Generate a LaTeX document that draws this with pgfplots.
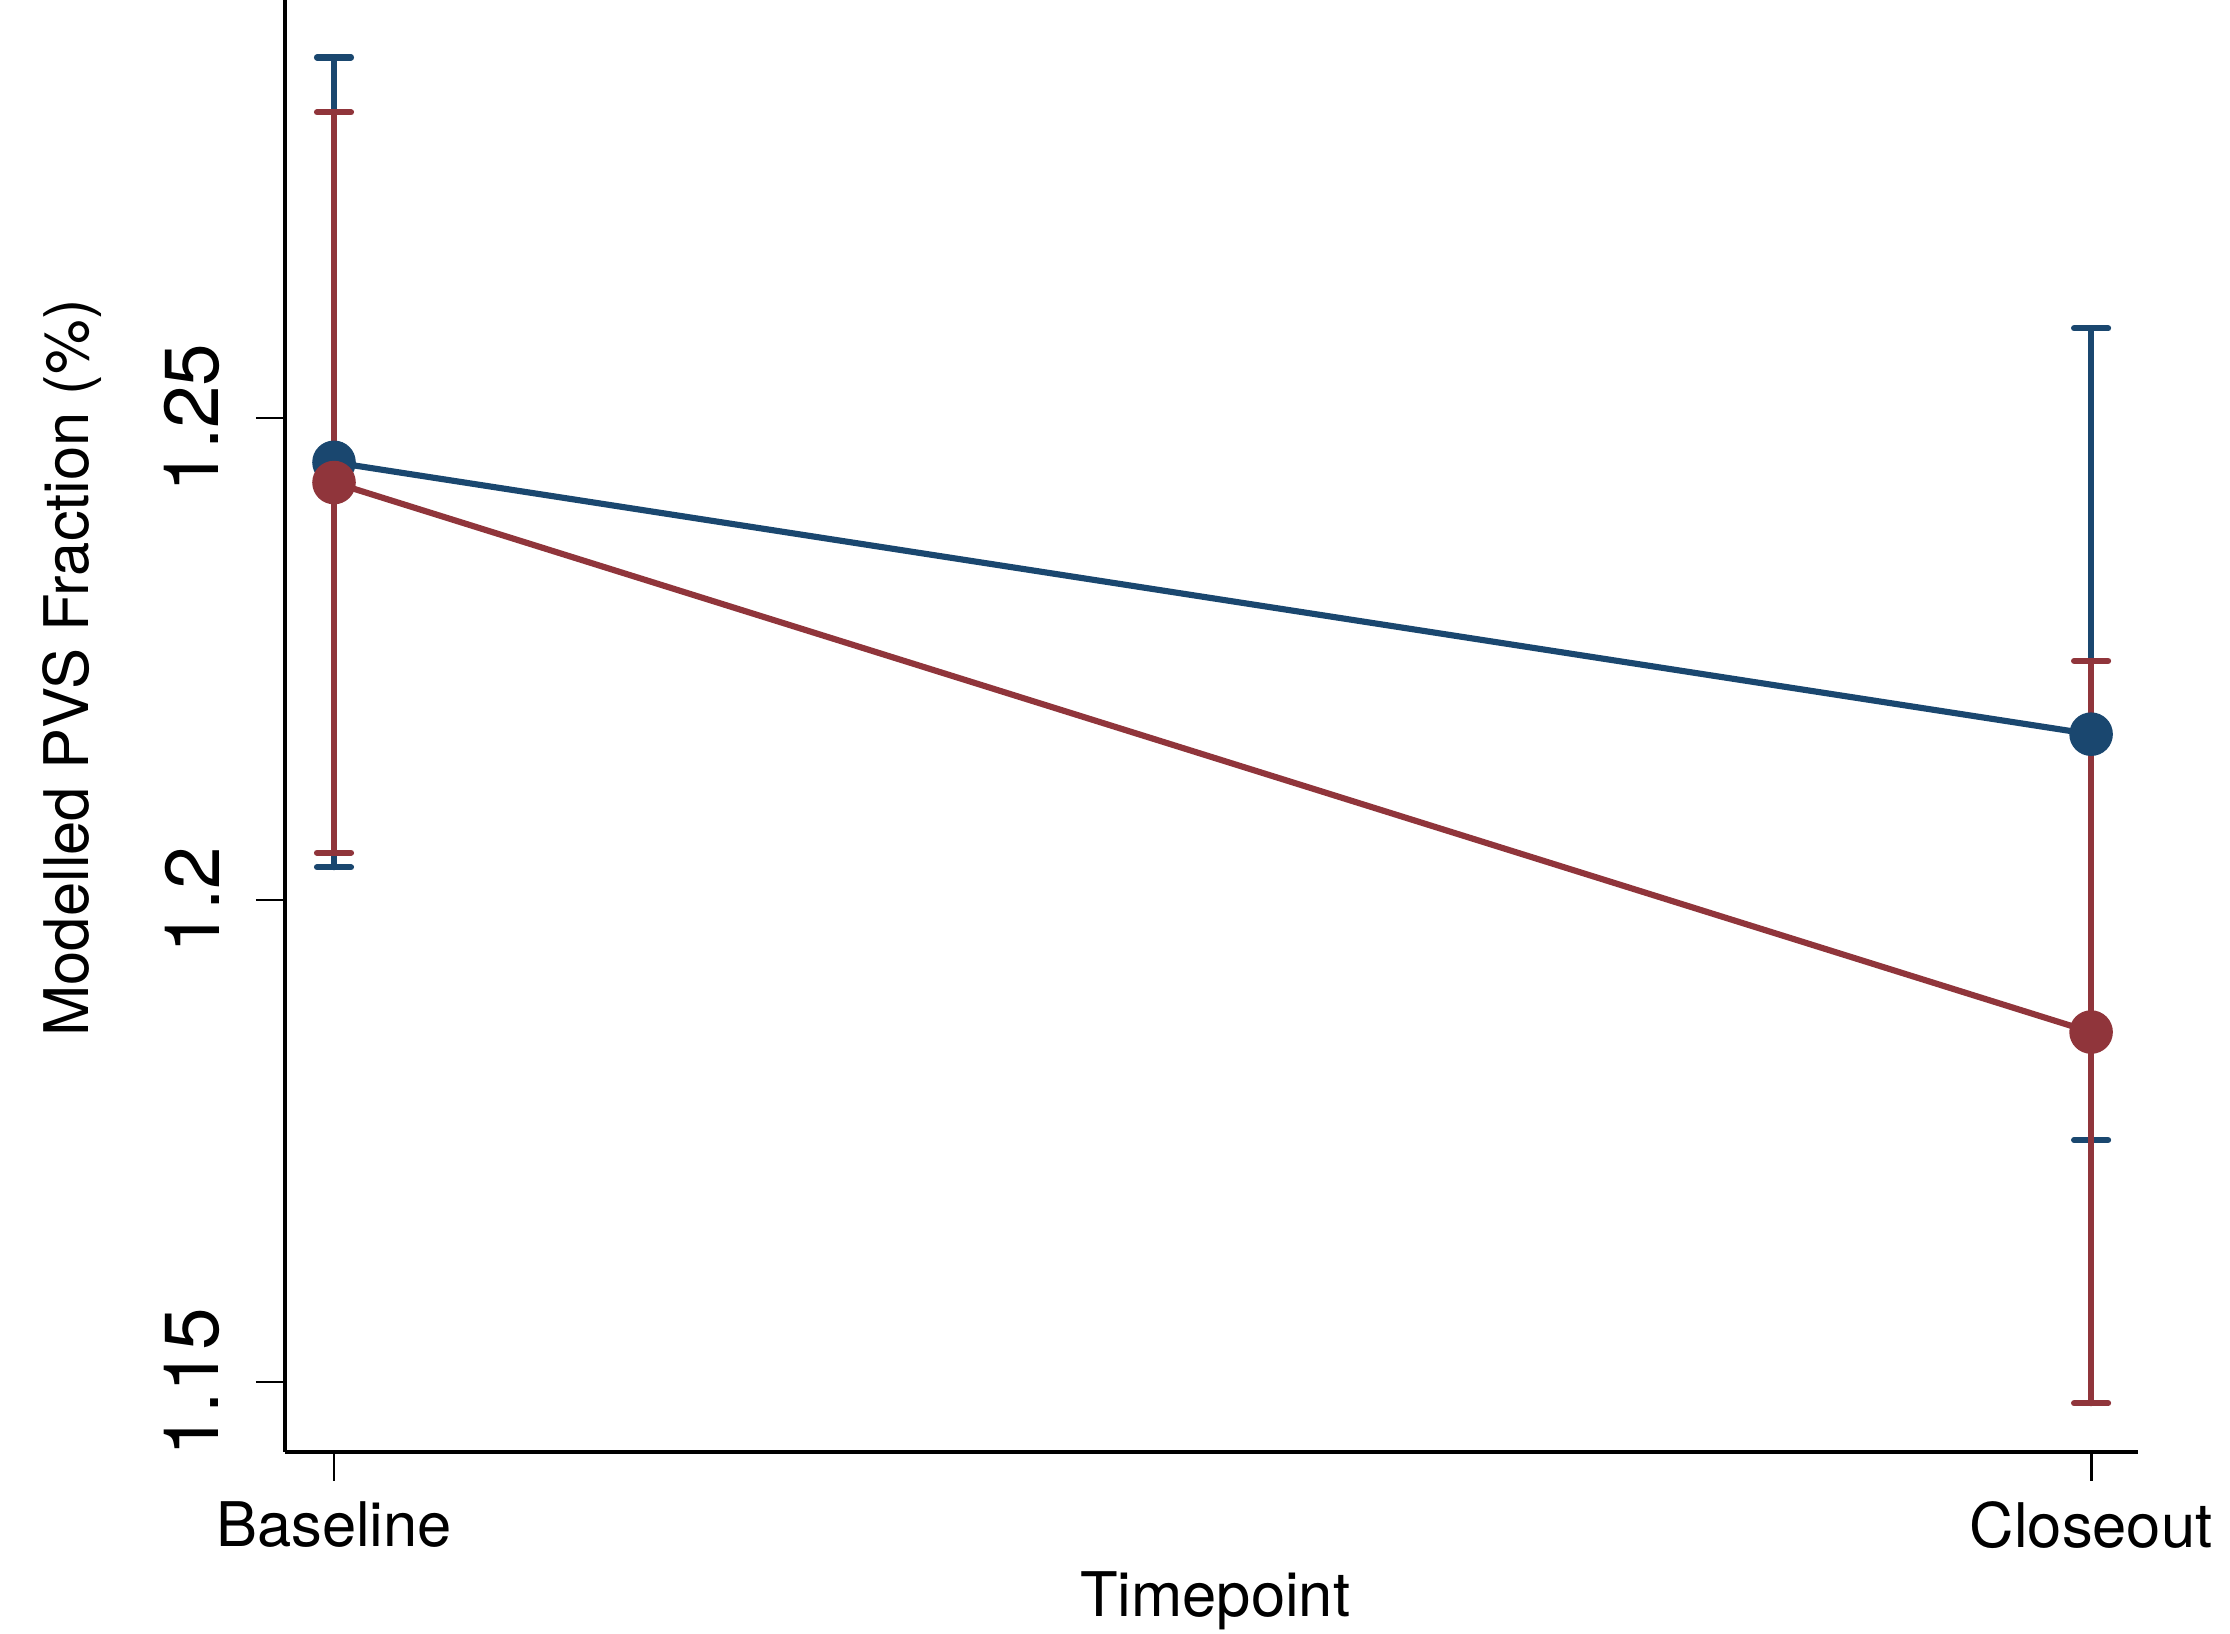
\documentclass[border=0pt]{standalone}
\usepackage{fontspec}
\setmainfont{TeX Gyre Heros}
\usepackage{pgfplots}
\pgfplotsset{compat=1.18}
\definecolor{snavy}{HTML}{1A476F}
\definecolor{smaroon}{HTML}{90353B}
\tikzset{
  ebar/.style={line width=1.75pt, line cap=round},
}
\newcommand{\tickfont}{\fontsize{21.8}{24}\selectfont}
\newcommand{\labfont}{\fontsize{17.5}{20}\selectfont}
\begin{document}
\begin{tikzpicture}
\begin{axis}[
  scale only axis,
  width=18.53cm, height=14.52cm,
  xmin=-0.0279, xmax=1.0267,
  ymin=1.14274, ymax=1.29336,
  axis lines*=left,
  axis line style={line width=0.95pt, black},
  tick align=outside,
  major tick length=0.29cm,
  tick style={line width=0.8pt, black},
  xtick={0,1}, xticklabels={Baseline,Closeout},
  ytick={1.15,1.2,1.25}, yticklabels={1.15,1.2,1.25},
  /pgf/number format/assume math mode=true,
  xticklabel style={font=\labfont, anchor=north, inner sep=0pt},
  yticklabel style={font=\tickfont, rotate=90, anchor=south, inner sep=0pt},
  xticklabel shift=0.2cm,
  yticklabel shift=0.36cm,
  xlabel={Timepoint},
  ylabel={Modelled PVS Fraction (\%)},
  every axis x label/.style={at={(axis description cs:0.502,-0.1136)}, anchor=base, font=\labfont},
  every axis y label/.style={at={(axis description cs:-0.1063,0.54)}, rotate=90, anchor=base, font=\labfont},
  clip=false,
]
% confidence intervals (mean +- half width)
\addplot[draw=none, mark=none,
  error bars/.cd, y dir=both, y explicit,
  error bar style={draw=snavy, ebar},
  error mark options={draw=snavy, ebar, rotate=90, mark size=0.17cm}]
  coordinates {(0,1.2454) +- (0,0.0420) (1,1.2172) +- (0,0.0421)};
\addplot[draw=none, mark=none,
  error bars/.cd, y dir=both, y explicit,
  error bar style={draw=smaroon, ebar},
  error mark options={draw=smaroon, ebar, rotate=90, mark size=0.17cm}]
  coordinates {(0,1.2433) +- (0,0.0384) (1,1.1863) +- (0,0.0385)};
% estimates
\addplot[snavy, line width=1.75pt, mark=*, mark size=6pt,
  mark options={fill=snavy, draw=snavy, line width=0.4pt}]
  coordinates {(0,1.2454) (1,1.2172)};
\addplot[smaroon, line width=1.75pt, mark=*, mark size=6pt,
  mark options={fill=smaroon, draw=smaroon, line width=0.4pt}]
  coordinates {(0,1.2433) (1,1.1863)};
\coordinate (o) at (rel axis cs:0,0);
\end{axis}
\pgfresetboundingbox
\path (o) +(-2.85cm,-1.82cm) rectangle +(19.45cm,14.52cm);
\end{tikzpicture}
\end{document}
